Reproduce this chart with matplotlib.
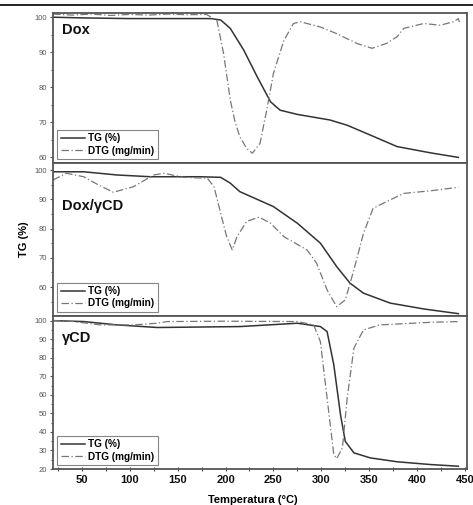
import matplotlib.pyplot as plt
from matplotlib.lines import Line2D
from matplotlib.ticker import MultipleLocator

plt.rcParams['font.family'] = ['Liberation Sans', 'DejaVu Sans']

# Dox
dox_tg_t = [20, 50, 100, 150, 185, 195, 205, 219, 233, 247, 257, 275, 309, 327, 351, 379, 414, 443]
dox_tg = [100.0, 99.8, 99.6, 99.6, 99.6, 99.2, 96.8, 90.6, 83.0, 75.8, 73.4, 72.2, 70.6, 69.1, 66.3, 63.0, 61.2, 59.9]
dox_dtg_t = [20, 40, 60, 80, 100, 120, 140, 160, 180, 191, 198, 205, 210, 215, 222, 228, 236, 243,
             250, 261, 271, 278, 299, 316, 337, 353, 368, 379, 386, 407, 424, 438, 443, 444]
dox_dtg = [100.9, 100.6, 100.9, 100.5, 100.8, 100.6, 100.9, 100.7, 100.8, 99.1, 89.6, 76.3, 70.0, 65.8,
           62.5, 61.1, 63.9, 73.4, 83.9, 93.4, 98.2, 98.7, 97.2, 95.3, 92.5, 91.1, 92.5, 94.4, 96.8,
           98.2, 97.7, 98.7, 99.6, 98.6]

# Dox/gCD
mix_tg_t = [20, 52, 87, 122, 174, 195, 205, 215, 250, 275, 299, 316, 330, 344, 372, 407, 443]
mix_tg = [99.4, 99.4, 98.3, 97.7, 97.7, 97.5, 95.5, 92.6, 87.5, 81.8, 75.0, 67.0, 61.3, 57.9, 54.5, 52.5, 50.9]
mix_dtg_t = [20, 34, 52, 68, 83, 104, 125, 136, 156, 181, 188, 195, 201, 207, 212, 222, 235, 247,
             261, 285, 295, 306, 316, 325, 334, 344, 354, 368, 386, 414, 443]
mix_dtg = [96.6, 98.9, 97.7, 94.8, 92.4, 94.3, 98.3, 98.9, 97.5, 97.2, 94.3, 85.2, 77.5, 72.7, 77.2,
           82.4, 83.9, 81.8, 77.2, 72.7, 68.2, 59.0, 53.3, 55.6, 65.9, 78.4, 86.9, 89.2, 92.0, 92.9, 94.1]

# gCD
cd_tg_t = [20, 52, 87, 129, 215, 275, 299, 306, 313, 320, 325, 334, 351, 379, 414, 443]
cd_tg = [100.0, 99.5, 97.7, 96.3, 96.8, 98.6, 96.8, 94.1, 76.2, 49.3, 34.9, 28.7, 26.0, 23.9, 22.4, 21.5]
cd_dtg_t = [20, 40, 69, 104, 129, 139, 200, 275, 292, 299, 306, 313, 316, 322, 327, 334, 344, 361, 414, 443]
cd_dtg = [100.0, 99.6, 97.7, 97.7, 98.6, 99.5, 99.7, 99.5, 97.7, 88.7, 58.3, 27.8, 25.6, 31.4, 58.3,
          85.2, 95.0, 97.7, 99.1, 99.5]

panels = [
    ('Dox', dox_tg_t, dox_tg, dox_dtg_t, dox_dtg, (58.3, 101.2), [60, 70, 80, 90, 100]),
    ('Dox/\u03b3CD', mix_tg_t, mix_tg, mix_dtg_t, mix_dtg, (50.1, 102.4), [60, 70, 80, 90, 100]),
    ('\u03b3CD', cd_tg_t, cd_tg, cd_dtg_t, cd_dtg, (20, 102.5), [20, 30, 40, 50, 60, 70, 80, 90, 100]),
]
title_y = [0.86, 0.69, 0.83]

fig = plt.figure(figsize=(4.73, 5.05), dpi=100)
W, H = 473, 505
boxes = [(13, 163), (163, 316), (316, 469)]

for i, (name, tt, tg, dt, dtg, ylim, yt) in enumerate(panels):
    top, bot = boxes[i]
    ax = fig.add_axes([53 / W, 1 - bot / H, 414 / W, (bot - top) / H])
    ax.plot(tt, tg, color='#333333', lw=1.1, label='TG (%)')
    ax.plot(dt, dtg, color='#777777', lw=0.9, ls=(0, (6, 2, 1, 2)), label='DTG (mg/min)')
    ax.set_xlim(20, 452)
    ax.set_ylim(*ylim)
    ax.set_yticks(yt)
    ax.yaxis.set_minor_locator(MultipleLocator(5))
    ax.tick_params(axis='y', which='both', direction='out', labelsize=5.5, colors='#555555',
                   length=2.5, width=0.8, pad=1.5)
    ax.tick_params(axis='y', which='minor', length=1.5)
    for s in ax.spines.values():
        s.set_color('#555555')
        s.set_linewidth(1.3)
    ax.text(0.022, title_y[i], name, transform=ax.transAxes,
            fontsize=10.5, fontweight='bold', color='#111111')
    leg = ax.legend(loc='lower left', prop={'weight': 'bold', 'size': 7.2}, frameon=True,
                    fancybox=False, edgecolor='#666666', handlelength=2.4, borderpad=0.35,
                    labelspacing=0.25, handletextpad=0.4, borderaxespad=0.4)
    leg.get_frame().set_linewidth(0.8)
    if i < 2:
        ax.set_xticks([])
    else:
        ax.set_xticks([50, 100, 150, 200, 250, 300, 350, 400, 450])
        ax.xaxis.set_minor_locator(MultipleLocator(25))
        ax.tick_params(axis='x', which='both', direction='inout', labelsize=8, length=3, width=0.8,
                       colors='#555555', labelcolor='#111111', pad=3)
        for lab in ax.get_xticklabels():
            lab.set_fontweight('bold')
    if i == 1:
        ax.set_ylabel('TG (%)', fontsize=8, fontweight='bold', labelpad=4)

fig.text(0.535, 0.0, 'Temperatura (\u00b0C)', ha='center', va='bottom', fontsize=8,
         fontweight='bold')
fig.add_artist(Line2D([0, 1], [1 - 5 / H, 1 - 5 / H], color='black', lw=1.2))

fig.savefig('out.png', dpi=100)
